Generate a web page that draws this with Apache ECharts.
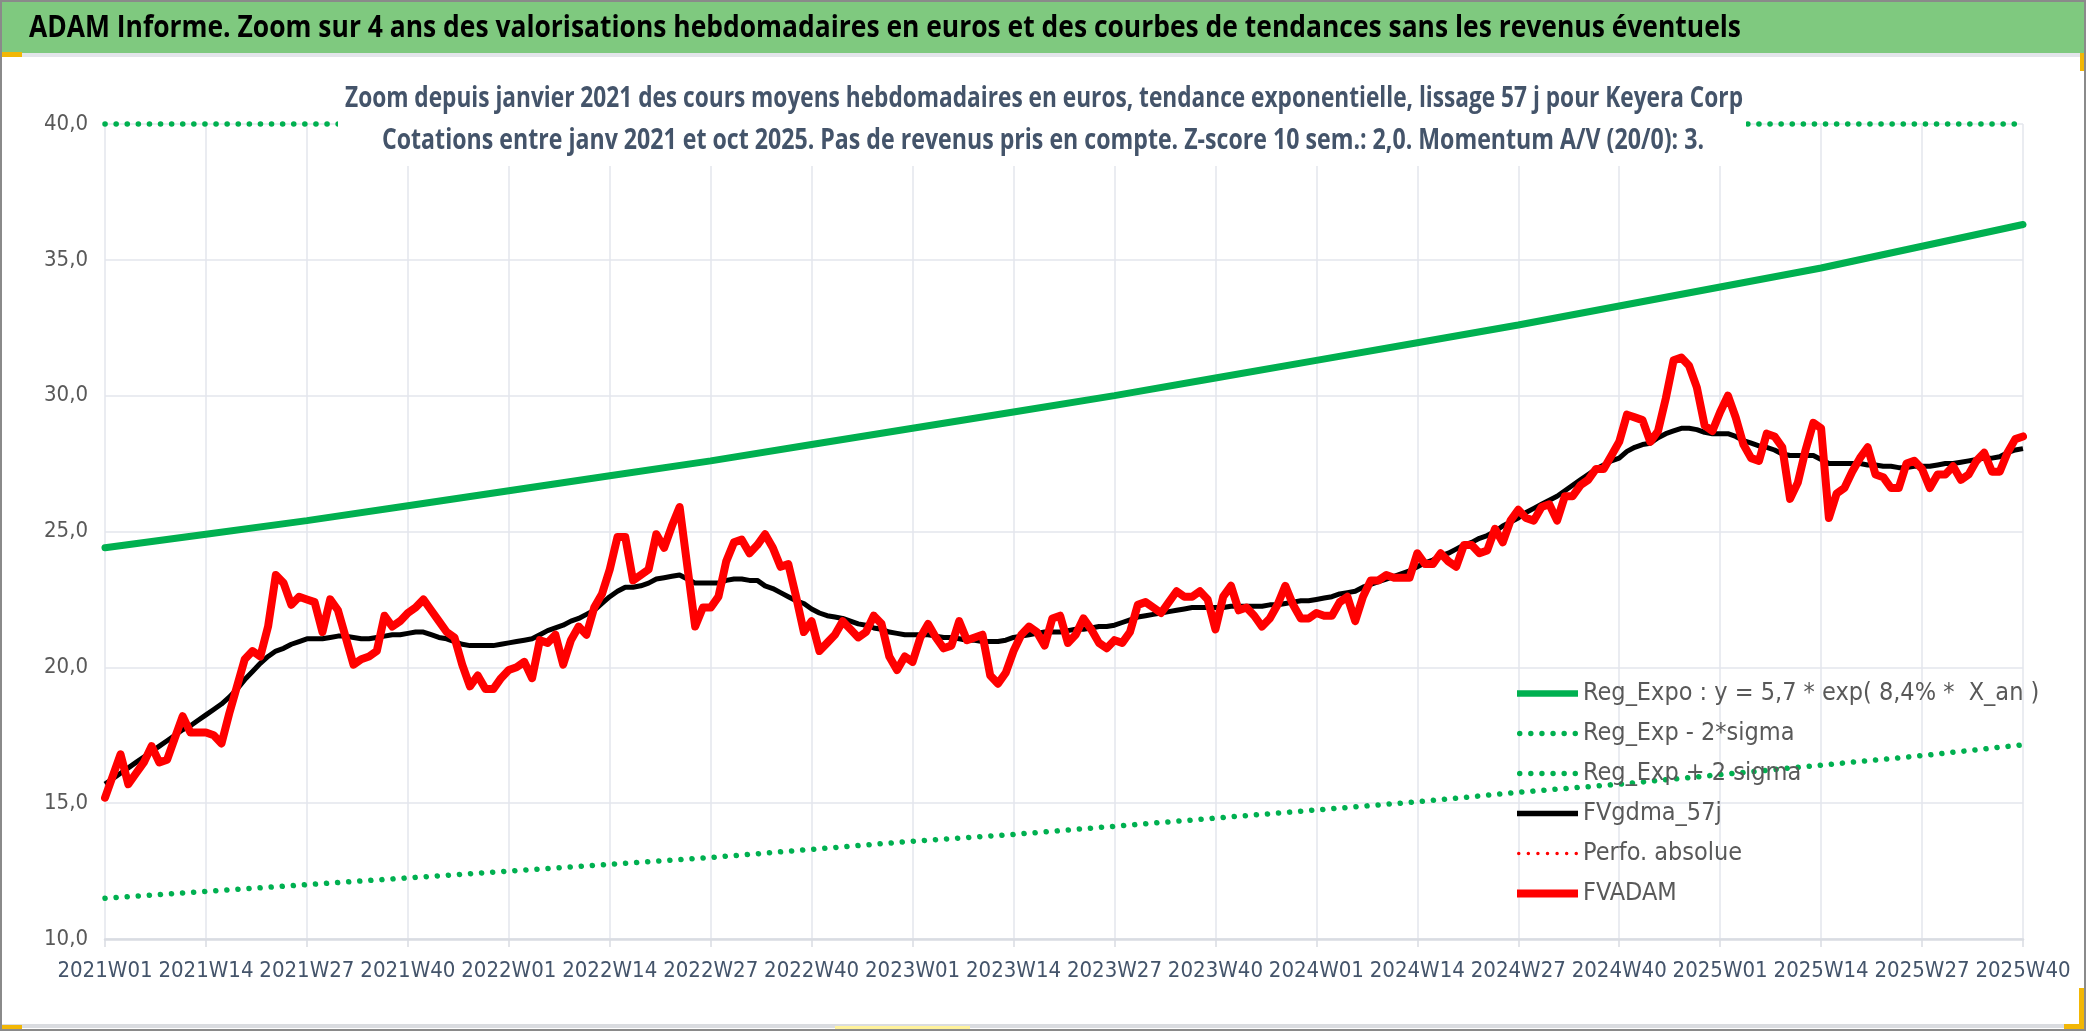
<!DOCTYPE html>
<html><head><meta charset="utf-8">
<script src="https://cdn.jsdelivr.net/npm/echarts/dist/echarts.min.js"></script>
<style>html,body{margin:0;padding:0;background:#fff}#c{width:2086px;height:1031px}</style>
</head><body><div id="c"></div>
<script>
// ---------- DATA ----------
const weekSegments = [[2021, 52], [2022, 52], [2023, 52], [2024, 52], [2025, 40]];
const tickStep = 13;

const titleText = 'ADAM Informe. Zoom sur 4 ans des valorisations hebdomadaires en euros et des courbes de tendances sans les revenus éventuels';
const subtitleLine1 = 'Zoom depuis janvier 2021 des cours moyens hebdomadaires en euros, tendance exponentielle, lissage 57 j pour Keyera Corp';
const subtitleLine2 = 'Cotations entre janv 2021 et oct 2025. Pas de revenus pris en compte. Z-score 10 sem.: 2,0. Momentum A/V (20/0): 3.';

const seriesNames = ['Reg_Expo : y = 5,7 * exp( 8,4% *  X_an )', 'Reg_Exp - 2*sigma', 'Reg_Exp + 2 sigma', 'FVgdma_57j', 'Perfo. absolue', 'FVADAM'];

// values read at every 13th week (2021W01, 2021W14, ... 2025W40)
const regExpoTicks = [24.4, 24.9, 25.4, 25.95, 26.5, 27.05, 27.6, 28.2, 28.8, 29.4, 30.0, 30.65, 31.3, 31.95, 32.6, 33.3, 34.0, 34.7, 35.5, 36.3];
const regExpMinusTicks = [11.5, 11.75, 12.0, 12.25, 12.5, 12.75, 13.0, 13.3, 13.6, 13.85, 14.15, 14.45, 14.75, 15.05, 15.4, 15.7, 16.05, 16.4, 16.75, 17.15];
// upper band is above the axis maximum: drawn on the 40,0 border
const regExpPlusTicks = [40, 40, 40, 40, 40, 40, 40, 40, 40, 40, 40, 40, 40, 40, 40, 40, 40, 40, 40, 40];

// weekly values 2021W01 .. 2025W40
const fvgdma57j = [
15.7,15.9,16.1,16.3,16.5,16.7,16.9,17.1,17.3,17.5,17.7,17.85,18.05,
18.25,18.45,18.65,18.9,19.2,19.55,19.85,20.15,20.4,20.6,20.7,20.85,20.95,
21.05,21.05,21.05,21.1,21.15,21.15,21.1,21.05,21.05,21.1,21.15,21.2,21.2,
21.25,21.3,21.3,21.2,21.1,21.05,20.95,20.85,20.8,20.8,20.8,20.8,20.85,
20.9,20.95,21.0,21.05,21.2,21.35,21.45,21.55,21.7,21.8,21.95,22.1,22.35,
22.6,22.8,22.95,22.95,23.0,23.1,23.25,23.3,23.35,23.4,23.25,23.1,23.1,
23.1,23.1,23.2,23.25,23.25,23.2,23.2,23.0,22.9,22.75,22.6,22.45,22.35,
22.15,22.0,21.9,21.85,21.8,21.7,21.6,21.55,21.45,21.4,21.3,21.25,21.2,
21.2,21.2,21.2,21.15,21.1,21.1,21.05,21.0,21.0,20.95,20.95,20.95,21.0,
21.1,21.15,21.2,21.25,21.3,21.3,21.3,21.35,21.4,21.4,21.45,21.5,21.5,
21.55,21.65,21.75,21.85,21.9,21.95,22.0,22.05,22.1,22.15,22.2,22.2,22.2,
22.2,22.2,22.25,22.25,22.25,22.25,22.25,22.3,22.3,22.35,22.4,22.45,22.45,
22.5,22.55,22.6,22.7,22.75,22.8,22.95,23.05,23.15,23.25,23.35,23.45,23.55,
23.7,23.85,23.95,24.1,24.2,24.35,24.5,24.6,24.75,24.85,25.0,25.2,25.35,
25.5,25.7,25.85,26.0,26.15,26.3,26.5,26.7,26.9,27.1,27.3,27.45,27.6,
27.7,27.95,28.1,28.2,28.25,28.45,28.6,28.7,28.8,28.8,28.75,28.65,28.6,
28.6,28.6,28.5,28.35,28.25,28.15,28.1,28.0,27.85,27.8,27.8,27.8,27.8,
27.65,27.5,27.5,27.5,27.5,27.5,27.45,27.45,27.4,27.4,27.35,27.35,27.4,
27.4,27.4,27.45,27.5,27.5,27.55,27.6,27.65,27.7,27.7,27.75,27.9,28.0,
28.05];

const fvadam = [
15.2,16.0,16.8,15.7,16.1,16.5,17.1,16.5,16.6,17.4,18.2,17.6,17.6,
17.6,17.5,17.2,18.3,19.3,20.3,20.6,20.4,21.5,23.4,23.1,22.3,22.6,
22.5,22.4,21.3,22.5,22.1,21.1,20.1,20.3,20.4,20.6,21.9,21.5,21.7,
22.0,22.2,22.5,22.1,21.7,21.3,21.1,20.1,19.3,19.7,19.2,19.2,19.6,
19.9,20.0,20.2,19.6,21.0,20.9,21.2,20.1,21.0,21.5,21.2,22.2,22.7,
23.6,24.8,24.8,23.2,23.4,23.6,24.9,24.4,25.2,25.9,23.7,21.5,22.2,
22.2,22.6,23.9,24.6,24.7,24.2,24.5,24.9,24.4,23.7,23.8,22.6,21.3,
21.7,20.6,20.9,21.2,21.7,21.4,21.1,21.3,21.9,21.6,20.4,19.9,20.4,
20.2,21.1,21.6,21.1,20.7,20.8,21.7,21.0,21.1,21.2,19.7,19.4,19.8,
20.6,21.2,21.5,21.3,20.8,21.8,21.9,20.9,21.2,21.8,21.4,20.9,20.7,
21.0,20.9,21.3,22.3,22.4,22.2,22.0,22.4,22.8,22.6,22.6,22.8,22.5,
21.4,22.6,23.0,22.1,22.2,21.9,21.5,21.8,22.3,23.0,22.3,21.8,21.8,
22.0,21.9,21.9,22.4,22.6,21.7,22.6,23.2,23.2,23.4,23.3,23.3,23.3,
24.2,23.8,23.8,24.2,23.9,23.7,24.5,24.5,24.2,24.3,25.1,24.6,25.4,
25.8,25.5,25.4,25.9,26.0,25.4,26.3,26.3,26.7,26.9,27.3,27.3,27.8,
28.3,29.3,29.2,29.1,28.3,28.7,29.9,31.3,31.4,31.1,30.3,28.9,28.7,
29.4,30.0,29.2,28.2,27.7,27.6,28.6,28.5,28.1,26.2,26.8,28.0,29.0,
28.8,25.5,26.4,26.6,27.2,27.7,28.1,27.1,27.0,26.6,26.6,27.5,27.6,
27.3,26.6,27.1,27.1,27.4,26.9,27.1,27.6,27.9,27.2,27.2,27.9,28.4,
28.5];

const perfoAbsolue = [];

// ---------- BUILD ----------
const weeks = [];
weekSegments.forEach(([yr, n]) => { for (let w = 1; w <= n; w++) weeks.push(yr + 'W' + String(w).padStart(2, '0')); });
const atTicks = arr => arr.map((v, k) => [k * tickStep, v]);

const mctx = document.createElement('canvas').getContext('2d');
function textW(t, font) { mctx.font = font; return mctx.measureText(t).width; }
function hasFont(n) {
  const s = 'mmmmmmmmmmlliWWW0123456789';
  return textW(s, '40px monospace') !== textW(s, '40px "' + n + '", monospace') ||
         textW(s, '40px serif') !== textW(s, '40px "' + n + '", serif');
}
const narrow = ['Liberation Sans Narrow', 'Arial Narrow', 'DejaVu Sans Condensed', 'Roboto Condensed'].find(hasFont) || 'Liberation Sans';
const isNarrow = narrow !== 'Liberation Sans';
const axisFont = isNarrow ? 22 : 19;
const legendFont = isNarrow ? 25 : 22;

const headFam = 'Open Sans';
const titleSize = 30, subSize = 29;
const titleScale = 1712 / textW(titleText, 'bold ' + titleSize + 'px "' + headFam + '"');
const sub1Scale = 1398 / textW(subtitleLine1, 'bold ' + subSize + 'px "' + headFam + '"');
const sub2Scale = 1322 / textW(subtitleLine2, 'bold ' + subSize + 'px "' + headFam + '"');

function headText(txt, x, y, size, scale, color, align) {
  return { type: 'text', x: x, y: y, scaleX: scale, z: 120,
    style: { text: txt, fill: color, font: 'bold ' + size + 'px "' + headFam + '"', fontWeight: 'bold', fontSize: size, fontFamily: headFam,
      align: align, textAlign: align, verticalAlign: 'middle', textVerticalAlign: 'middle' } };
}

// legend icons (shape only)
function barIcon(h) { return 'path://M0,0H61V' + h + 'H0Z'; }
function dotsIcon(n, r, step) {
  let p = 'path://';
  for (let k = 0; k < n; k++) {
    const x = k * step;
    p += 'M' + x + ',' + r + 'a' + r + ',' + r + ' 0 1,0 ' + (2 * r) + ',0a' + r + ',' + r + ' 0 1,0 ' + (-2 * r) + ',0';
  }
  return p;
}
const legendIcons = [barIcon(6.5), dotsIcon(6, 2.7, 11), dotsIcon(6, 2.7, 11), barIcon(5.5), dotsIcon(7, 1.7, 9.3), barIcon(8)];

const dotted = [0.1, 11];
const chart = echarts.init(document.getElementById('c'), null, { renderer: 'canvas' });
chart.setOption({
  animation: false,
  backgroundColor: '#ffffff',
  grid: { left: 105, right: 63, top: 124, bottom: 92, containLabel: false },
  xAxis: {
    type: 'category', data: weeks, boundaryGap: false,
    axisLine: { show: true, lineStyle: { color: '#D9DCE2', width: 2.5 } },
    axisTick: { show: true, interval: tickStep - 1, length: 8, lineStyle: { color: '#D9DCE2', width: 1.5 } },
    axisLabel: { interval: tickStep - 1, margin: 21, color: '#44546A', fontSize: axisFont, fontFamily: narrow },
    splitLine: { show: true, interval: tickStep - 1, lineStyle: { color: '#E3E6EC', width: 1.5 } }
  },
  yAxis: {
    type: 'value', min: 10, max: 40, interval: 5,
    axisLine: { show: false }, axisTick: { show: false },
    axisLabel: { margin: 17, color: '#595959', fontSize: axisFont, fontFamily: narrow, formatter: v => v.toFixed(1).replace('.', ',') },
    splitLine: { lineStyle: { color: '#E3E6EC', width: 1.5 } }
  },
  legend: {
    orient: 'vertical', left: 1517, top: 681, padding: 0,
    itemWidth: 61, itemHeight: 20, itemGap: 15, itemStyle: { borderWidth: 0 },
    data: seriesNames.map((n, k) => ({ name: n, icon: legendIcons[k] })),
    textStyle: { color: '#595959', fontSize: legendFont, fontFamily: narrow, lineHeight: 20 }
  },
  series: [
    { name: seriesNames[0], type: 'line', data: atTicks(regExpoTicks), symbol: 'none', color: '#00B050',
      lineStyle: { color: '#00B050', width: 7, cap: 'round' }, z: 2 },
    { name: seriesNames[1], type: 'line', data: atTicks(regExpMinusTicks), symbol: 'none', color: '#00B050',
      lineStyle: { color: '#00B050', width: 5.5, type: dotted, cap: 'round' }, z: 2 },
    { name: seriesNames[2], type: 'line', data: atTicks(regExpPlusTicks), symbol: 'none', color: '#00B050', clip: false,
      lineStyle: { color: '#00B050', width: 5.5, type: dotted, cap: 'round' }, z: 2 },
    { name: seriesNames[3], type: 'line', data: fvgdma57j, symbol: 'none', color: '#000000',
      lineStyle: { color: '#000000', width: 5, join: 'round' }, z: 3 },
    { name: seriesNames[4], type: 'line', data: perfoAbsolue, symbol: 'none', color: '#FF0000',
      lineStyle: { color: '#FF0000', width: 3, type: [0.1, 7], cap: 'round' }, z: 3 },
    { name: seriesNames[5], type: 'line', data: fvadam, symbol: 'none', color: '#FF0000',
      lineStyle: { color: '#FF0000', width: 8, join: 'round', cap: 'round' }, z: 4 }
  ],
  graphic: { elements: [
    { type: 'rect', shape: { x: 0, y: 0, width: 2086, height: 53 }, style: { fill: '#7FC97F' }, z: 100 },
    { type: 'rect', shape: { x: 0, y: 53, width: 2086, height: 4 }, style: { fill: '#E3E5EA' }, z: 100 },
    { type: 'rect', shape: { x: 0, y: 1024, width: 2086, height: 4 }, style: { fill: '#DADCE0' }, z: 100 },
    { type: 'rect', shape: { x: 338, y: 80, width: 1408, height: 86 }, style: { fill: '#ffffff' }, z: 100 },
    { type: 'rect', shape: { x: 0, y: 52, width: 22, height: 5 }, style: { fill: '#F2B705' }, z: 101 },
    { type: 'rect', shape: { x: 2080, y: 53, width: 6, height: 18 }, style: { fill: '#F2B705' }, z: 101 },
    { type: 'rect', shape: { x: 2079, y: 988, width: 7, height: 40 }, style: { fill: '#F2B705' }, z: 101 },
    { type: 'rect', shape: { x: 2064, y: 1024, width: 22, height: 5 }, style: { fill: '#F2B705' }, z: 101 },
    { type: 'rect', shape: { x: 0, y: 1025, width: 22, height: 4 }, style: { fill: '#F2B705' }, z: 101 },
    { type: 'rect', shape: { x: 835, y: 1026, width: 135, height: 4 }, style: { fill: '#FFF29A' }, z: 101 },
    { type: 'rect', shape: { x: 1, y: 1, width: 2084, height: 1029 }, style: { fill: 'none', stroke: '#8A8A8A', lineWidth: 2 }, z: 102 },
    headText(titleText, 29, 28, titleSize, titleScale, '#000000', 'left'),
    headText(subtitleLine1, 1044, 99, subSize, sub1Scale, '#44546A', 'center'),
    headText(subtitleLine2, 1043, 141, subSize, sub2Scale, '#44546A', 'center')
  ] }
});
</script></body></html>
